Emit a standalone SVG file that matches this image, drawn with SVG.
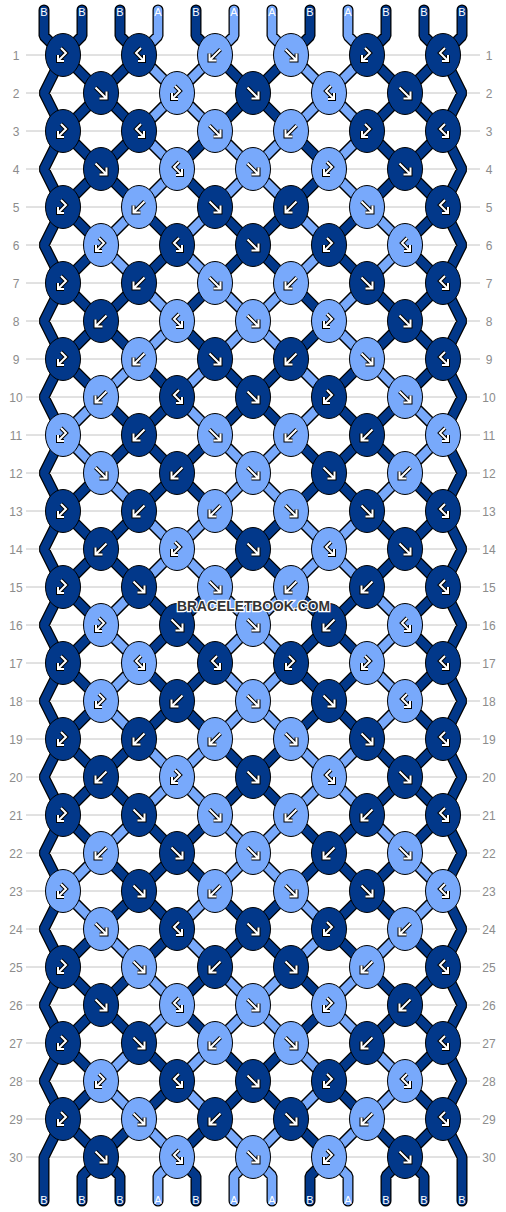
<svg xmlns="http://www.w3.org/2000/svg" width="506" height="1212" viewBox="0 0 506 1212">
<style>
.so{fill:none;stroke:#000;stroke-width:11;stroke-linecap:round;stroke-linejoin:bevel}
.sd{fill:none;stroke:#02388a;stroke-width:8.5;stroke-linecap:round;stroke-linejoin:bevel}
.sl{fill:none;stroke:#78a9fb;stroke-width:8.5;stroke-linecap:round;stroke-linejoin:bevel}
.d{fill:#02388a;stroke:#000;stroke-width:1}
.l{fill:#78a9fb;stroke:#000;stroke-width:1}
.ao{fill:none;stroke:#000;stroke-width:4;stroke-linejoin:miter}
.ai{fill:none;stroke:#fff;stroke-width:2;stroke-linejoin:miter}
.num{font-family:"Liberation Sans",Arial,sans-serif;font-size:12px;fill:#8c8c8c;text-anchor:middle}
.lab{font-family:"Liberation Sans",Arial,sans-serif;font-size:11px;fill:#fff;text-anchor:middle}
.wm{font-family:"Liberation Sans",Arial,sans-serif;font-size:14px;font-weight:bold;fill:#333;stroke:#fff;stroke-width:2.5;paint-order:stroke;text-anchor:middle}
</style>
<defs>
<ellipse id="ed" rx="17.5" ry="21.5" class="d"/>
<ellipse id="el" rx="17.5" ry="21.5" class="l"/>
<path id="pf" d="M-5.5-5.5L5.5 5.5M5.5-1.5V5.5H-1.5"/>
<path id="pb" d="M5.5-5.5L-5.5 5.5M-5.5-1.5V5.5H1.5"/>
<path id="pfb" d="M2-7L-3-2L5 6M5 0V6H-1"/>
<path id="pbf" d="M-2-7L3-2L-5 6M-5 0V6H1"/>
<g id="Df"><use href="#ed"/><use href="#pf" class="ao"/><use href="#pf" class="ai"/></g>
<g id="Db"><use href="#ed"/><use href="#pb" class="ao"/><use href="#pb" class="ai"/></g>
<g id="Dfb"><use href="#ed"/><use href="#pfb" class="ao"/><use href="#pfb" class="ai"/></g>
<g id="Dbf"><use href="#ed"/><use href="#pbf" class="ao"/><use href="#pbf" class="ai"/></g>
<g id="Lf"><use href="#el"/><use href="#pf" class="ao"/><use href="#pf" class="ai"/></g>
<g id="Lb"><use href="#el"/><use href="#pb" class="ao"/><use href="#pb" class="ai"/></g>
<g id="Lfb"><use href="#el"/><use href="#pfb" class="ao"/><use href="#pfb" class="ai"/></g>
<g id="Lbf"><use href="#el"/><use href="#pbf" class="ao"/><use href="#pbf" class="ai"/></g>
<path id="darkS" d="M63 55L443 435M139 55L443 359M215 55L443 283M291 55L443 207M367 55L443 131M63 131L443 511M63 207L443 587M63 283L443 663M63 359L443 739M63 435L443 815M63 511L443 891M63 587L443 967M63 663L443 1043M63 739L443 1119M63 815L405 1157M63 891L329 1157M63 967L253 1157M63 1043L177 1157M63 1119L101 1157M139 55L63 131M215 55L63 207M291 55L63 283M367 55L63 359M443 55L63 435M443 131L63 511M443 207L63 587M443 283L63 663M443 359L63 739M443 435L63 815M443 511L63 891M443 587L63 967M443 663L63 1043M443 739L63 1119M443 815L101 1157M443 891L177 1157M443 967L253 1157M443 1043L329 1157M443 1119L405 1157M82 10V36l-19 19M120 10V36l19 19M196 10V36l19 19M310 10V36l-19 19M386 10V36l-19 19M424 10V36l19 19M82 1201V1176l19-19M120 1201V1176l-19-19M196 1201V1176l-19-19M310 1201V1176l19-19M386 1201V1176l19-19M424 1201V1176l-19-19M44 10V36L63 55L44 93L63 131L44 169L63 207L44 245L63 283L44 321L63 359L44 397L63 435L44 473L63 511L44 549L63 587L44 625L63 663L44 701L63 739L44 777L63 815L44 853L63 891L44 929L63 967L44 1005L63 1043L44 1081L63 1119L44 1157V1201M462 10V36L443 55L462 93L443 131L462 169L443 207L462 245L443 283L462 321L443 359L462 397L443 435L462 473L443 511L462 549L443 587L462 625L443 663L462 701L443 739L462 777L443 815L462 853L443 891L462 929L443 967L462 1005L443 1043L462 1081L443 1119L462 1157V1201"/>
<path id="lightS" d="M158 10V36l-19 19M234 10V36l-19 19M272 10V36l19 19M348 10V36l19 19M158 1201V1176l19-19M234 1201V1176l19-19M272 1201V1176l-19-19M348 1201V1176l-19-19M139 55l38 38M215 55l-38 38M291 55l38 38M367 55l-38 38M177 93l-38 38M177 93l38 38M329 93l-38 38M329 93l38 38M139 131l38 38M215 131l38 38M291 131l-38 38M367 131l-38 38M177 169l-38 38M253 169l-38 38M253 169l38 38M329 169l38 38M139 207l-38 38M215 207l-38 38M291 207l38 38M367 207l38 38M101 245l38 38M177 245l38 38M329 245l-38 38M405 245l-38 38M139 283l38 38M215 283l38 38M291 283l-38 38M367 283l-38 38M177 321l-38 38M253 321l-38 38M253 321l38 38M329 321l38 38M139 359l-38 38M215 359l-38 38M291 359l38 38M367 359l38 38M101 397l-38 38M177 397l38 38M329 397l-38 38M405 397l38 38M63 435l38 38M215 435l38 38M291 435l-38 38M443 435l-38 38M101 473l38 38M253 473l-38 38M253 473l38 38M405 473l-38 38M139 511l38 38M215 511l-38 38M291 511l38 38M367 511l-38 38M177 549l-38 38M177 549l38 38M329 549l-38 38M329 549l38 38M139 587l-38 38M215 587l38 38M291 587l-38 38M367 587l38 38M101 625l38 38M253 625l-38 38M253 625l38 38M405 625l-38 38M139 663l-38 38M215 663l38 38M291 663l-38 38M367 663l38 38M101 701l38 38M253 701l-38 38M253 701l38 38M405 701l-38 38M139 739l38 38M215 739l-38 38M291 739l38 38M367 739l-38 38M177 777l-38 38M177 777l38 38M329 777l-38 38M329 777l38 38M139 815l-38 38M215 815l38 38M291 815l-38 38M367 815l38 38M101 853l-38 38M253 853l-38 38M253 853l38 38M405 853l38 38M63 891l38 38M215 891l-38 38M291 891l38 38M443 891l-38 38M101 929l38 38M177 929l38 38M329 929l-38 38M405 929l-38 38M139 967l38 38M215 967l38 38M291 967l-38 38M367 967l-38 38M177 1005l-38 38M253 1005l-38 38M253 1005l38 38M329 1005l38 38M139 1043l-38 38M215 1043l-38 38M291 1043l38 38M367 1043l38 38M101 1081l38 38M177 1081l38 38M329 1081l-38 38M405 1081l-38 38M139 1119l38 38M215 1119l38 38M291 1119l-38 38M367 1119l-38 38"/>
</defs>
<rect width="506" height="1212" fill="#fff"/>
<g id="grid">
<path d="M26 55H480M26 93H480M26 131H480M26 169H480M26 207H480M26 245H480M26 283H480M26 321H480M26 359H480M26 397H480M26 435H480M26 473H480M26 511H480M26 549H480M26 587H480M26 625H480M26 663H480M26 701H480M26 739H480M26 777H480M26 815H480M26 853H480M26 891H480M26 929H480M26 967H480M26 1005H480M26 1043H480M26 1081H480M26 1119H480M26 1157H480" stroke="#c4c4c4" stroke-width="1" fill="none"/>
<g class="num">
<text x="16" y="59.5">1</text><text x="16" y="97.5">2</text><text x="16" y="135.5">3</text><text x="16" y="173.5">4</text><text x="16" y="211.5">5</text><text x="16" y="249.5">6</text><text x="16" y="287.5">7</text><text x="16" y="325.5">8</text><text x="16" y="363.5">9</text><text x="16" y="401.5">10</text><text x="16" y="439.5">11</text><text x="16" y="477.5">12</text><text x="16" y="515.5">13</text><text x="16" y="553.5">14</text><text x="16" y="591.5">15</text><text x="16" y="629.5">16</text><text x="16" y="667.5">17</text><text x="16" y="705.5">18</text><text x="16" y="743.5">19</text><text x="16" y="781.5">20</text><text x="16" y="819.5">21</text><text x="16" y="857.5">22</text><text x="16" y="895.5">23</text><text x="16" y="933.5">24</text><text x="16" y="971.5">25</text><text x="16" y="1009.5">26</text><text x="16" y="1047.5">27</text><text x="16" y="1085.5">28</text><text x="16" y="1123.5">29</text><text x="16" y="1161.5">30</text>
<text x="489" y="59.5">1</text><text x="489" y="97.5">2</text><text x="489" y="135.5">3</text><text x="489" y="173.5">4</text><text x="489" y="211.5">5</text><text x="489" y="249.5">6</text><text x="489" y="287.5">7</text><text x="489" y="325.5">8</text><text x="489" y="363.5">9</text><text x="489" y="401.5">10</text><text x="489" y="439.5">11</text><text x="489" y="477.5">12</text><text x="489" y="515.5">13</text><text x="489" y="553.5">14</text><text x="489" y="591.5">15</text><text x="489" y="629.5">16</text><text x="489" y="667.5">17</text><text x="489" y="705.5">18</text><text x="489" y="743.5">19</text><text x="489" y="781.5">20</text><text x="489" y="819.5">21</text><text x="489" y="857.5">22</text><text x="489" y="895.5">23</text><text x="489" y="933.5">24</text><text x="489" y="971.5">25</text><text x="489" y="1009.5">26</text><text x="489" y="1047.5">27</text><text x="489" y="1085.5">28</text><text x="489" y="1123.5">29</text><text x="489" y="1161.5">30</text>
</g>
</g>
<g id="connectors">
<use href="#darkS" class="so"/>
<use href="#darkS" class="sd"/>
<use href="#lightS" class="so"/>
<use href="#lightS" class="sl"/>
</g>
<g id="string-labels" class="lab">
<text x="44" y="16">B</text><text x="82" y="16">B</text><text x="120" y="16">B</text><text x="158" y="16">A</text><text x="196" y="16">B</text><text x="234" y="16">A</text><text x="272" y="16">A</text><text x="310" y="16">B</text><text x="348" y="16">A</text><text x="386" y="16">B</text><text x="424" y="16">B</text><text x="462" y="16">B</text>
<text x="44" y="1204">B</text><text x="82" y="1204">B</text><text x="120" y="1204">B</text><text x="158" y="1204">A</text><text x="196" y="1204">B</text><text x="234" y="1204">A</text><text x="272" y="1204">A</text><text x="310" y="1204">B</text><text x="348" y="1204">A</text><text x="386" y="1204">B</text><text x="424" y="1204">B</text><text x="462" y="1204">B</text>
</g>
<g id="knots">
<g id="n1-1"><use href="#Dbf" x="63" y="55"/></g><g id="n1-2"><use href="#Dfb" x="139" y="55"/></g><g id="n1-3"><use href="#Lb" x="215" y="55"/></g><g id="n1-4"><use href="#Lf" x="291" y="55"/></g><g id="n1-5"><use href="#Dbf" x="367" y="55"/></g><g id="n1-6"><use href="#Dfb" x="443" y="55"/></g>
<g id="n2-1"><use href="#Df" x="101" y="93"/></g><g id="n2-2"><use href="#Lbf" x="177" y="93"/></g><g id="n2-3"><use href="#Df" x="253" y="93"/></g><g id="n2-4"><use href="#Lfb" x="329" y="93"/></g><g id="n2-5"><use href="#Df" x="405" y="93"/></g>
<g id="n3-1"><use href="#Dbf" x="63" y="131"/></g><g id="n3-2"><use href="#Dfb" x="139" y="131"/></g><g id="n3-3"><use href="#Lf" x="215" y="131"/></g><g id="n3-4"><use href="#Lb" x="291" y="131"/></g><g id="n3-5"><use href="#Dbf" x="367" y="131"/></g><g id="n3-6"><use href="#Dfb" x="443" y="131"/></g>
<g id="n4-1"><use href="#Df" x="101" y="169"/></g><g id="n4-2"><use href="#Lfb" x="177" y="169"/></g><g id="n4-3"><use href="#Lf" x="253" y="169"/></g><g id="n4-4"><use href="#Lbf" x="329" y="169"/></g><g id="n4-5"><use href="#Df" x="405" y="169"/></g>
<g id="n5-1"><use href="#Dbf" x="63" y="207"/></g><g id="n5-2"><use href="#Lb" x="139" y="207"/></g><g id="n5-3"><use href="#Df" x="215" y="207"/></g><g id="n5-4"><use href="#Db" x="291" y="207"/></g><g id="n5-5"><use href="#Lf" x="367" y="207"/></g><g id="n5-6"><use href="#Dfb" x="443" y="207"/></g>
<g id="n6-1"><use href="#Lbf" x="101" y="245"/></g><g id="n6-2"><use href="#Dfb" x="177" y="245"/></g><g id="n6-3"><use href="#Df" x="253" y="245"/></g><g id="n6-4"><use href="#Dbf" x="329" y="245"/></g><g id="n6-5"><use href="#Lfb" x="405" y="245"/></g>
<g id="n7-1"><use href="#Dbf" x="63" y="283"/></g><g id="n7-2"><use href="#Db" x="139" y="283"/></g><g id="n7-3"><use href="#Lf" x="215" y="283"/></g><g id="n7-4"><use href="#Lb" x="291" y="283"/></g><g id="n7-5"><use href="#Df" x="367" y="283"/></g><g id="n7-6"><use href="#Dfb" x="443" y="283"/></g>
<g id="n8-1"><use href="#Db" x="101" y="321"/></g><g id="n8-2"><use href="#Lfb" x="177" y="321"/></g><g id="n8-3"><use href="#Lf" x="253" y="321"/></g><g id="n8-4"><use href="#Lbf" x="329" y="321"/></g><g id="n8-5"><use href="#Df" x="405" y="321"/></g>
<g id="n9-1"><use href="#Dbf" x="63" y="359"/></g><g id="n9-2"><use href="#Lb" x="139" y="359"/></g><g id="n9-3"><use href="#Df" x="215" y="359"/></g><g id="n9-4"><use href="#Db" x="291" y="359"/></g><g id="n9-5"><use href="#Lf" x="367" y="359"/></g><g id="n9-6"><use href="#Dfb" x="443" y="359"/></g>
<g id="n10-1"><use href="#Lb" x="101" y="397"/></g><g id="n10-2"><use href="#Dfb" x="177" y="397"/></g><g id="n10-3"><use href="#Df" x="253" y="397"/></g><g id="n10-4"><use href="#Dbf" x="329" y="397"/></g><g id="n10-5"><use href="#Lf" x="405" y="397"/></g>
<g id="n11-1"><use href="#Lbf" x="63" y="435"/></g><g id="n11-2"><use href="#Db" x="139" y="435"/></g><g id="n11-3"><use href="#Lf" x="215" y="435"/></g><g id="n11-4"><use href="#Lb" x="291" y="435"/></g><g id="n11-5"><use href="#Db" x="367" y="435"/></g><g id="n11-6"><use href="#Lfb" x="443" y="435"/></g>
<g id="n12-1"><use href="#Lf" x="101" y="473"/></g><g id="n12-2"><use href="#Db" x="177" y="473"/></g><g id="n12-3"><use href="#Lf" x="253" y="473"/></g><g id="n12-4"><use href="#Df" x="329" y="473"/></g><g id="n12-5"><use href="#Lb" x="405" y="473"/></g>
<g id="n13-1"><use href="#Dbf" x="63" y="511"/></g><g id="n13-2"><use href="#Db" x="139" y="511"/></g><g id="n13-3"><use href="#Lb" x="215" y="511"/></g><g id="n13-4"><use href="#Lf" x="291" y="511"/></g><g id="n13-5"><use href="#Df" x="367" y="511"/></g><g id="n13-6"><use href="#Dfb" x="443" y="511"/></g>
<g id="n14-1"><use href="#Db" x="101" y="549"/></g><g id="n14-2"><use href="#Lbf" x="177" y="549"/></g><g id="n14-3"><use href="#Df" x="253" y="549"/></g><g id="n14-4"><use href="#Lfb" x="329" y="549"/></g><g id="n14-5"><use href="#Df" x="405" y="549"/></g>
<g id="n15-1"><use href="#Dbf" x="63" y="587"/></g><g id="n15-2"><use href="#Df" x="139" y="587"/></g><g id="n15-3"><use href="#Lf" x="215" y="587"/></g><g id="n15-4"><use href="#Lb" x="291" y="587"/></g><g id="n15-5"><use href="#Db" x="367" y="587"/></g><g id="n15-6"><use href="#Dfb" x="443" y="587"/></g>
<g id="n16-1"><use href="#Lbf" x="101" y="625"/></g><g id="n16-2"><use href="#Df" x="177" y="625"/></g><g id="n16-3"><use href="#Lf" x="253" y="625"/></g><g id="n16-4"><use href="#Db" x="329" y="625"/></g><g id="n16-5"><use href="#Lfb" x="405" y="625"/></g>
<g id="n17-1"><use href="#Dbf" x="63" y="663"/></g><g id="n17-2"><use href="#Lfb" x="139" y="663"/></g><g id="n17-3"><use href="#Dfb" x="215" y="663"/></g><g id="n17-4"><use href="#Dbf" x="291" y="663"/></g><g id="n17-5"><use href="#Lbf" x="367" y="663"/></g><g id="n17-6"><use href="#Dfb" x="443" y="663"/></g>
<g id="n18-1"><use href="#Lbf" x="101" y="701"/></g><g id="n18-2"><use href="#Db" x="177" y="701"/></g><g id="n18-3"><use href="#Lf" x="253" y="701"/></g><g id="n18-4"><use href="#Df" x="329" y="701"/></g><g id="n18-5"><use href="#Lfb" x="405" y="701"/></g>
<g id="n19-1"><use href="#Dbf" x="63" y="739"/></g><g id="n19-2"><use href="#Db" x="139" y="739"/></g><g id="n19-3"><use href="#Lb" x="215" y="739"/></g><g id="n19-4"><use href="#Lf" x="291" y="739"/></g><g id="n19-5"><use href="#Df" x="367" y="739"/></g><g id="n19-6"><use href="#Dfb" x="443" y="739"/></g>
<g id="n20-1"><use href="#Db" x="101" y="777"/></g><g id="n20-2"><use href="#Lbf" x="177" y="777"/></g><g id="n20-3"><use href="#Df" x="253" y="777"/></g><g id="n20-4"><use href="#Lfb" x="329" y="777"/></g><g id="n20-5"><use href="#Df" x="405" y="777"/></g>
<g id="n21-1"><use href="#Dbf" x="63" y="815"/></g><g id="n21-2"><use href="#Df" x="139" y="815"/></g><g id="n21-3"><use href="#Lf" x="215" y="815"/></g><g id="n21-4"><use href="#Lb" x="291" y="815"/></g><g id="n21-5"><use href="#Db" x="367" y="815"/></g><g id="n21-6"><use href="#Dfb" x="443" y="815"/></g>
<g id="n22-1"><use href="#Lb" x="101" y="853"/></g><g id="n22-2"><use href="#Df" x="177" y="853"/></g><g id="n22-3"><use href="#Lf" x="253" y="853"/></g><g id="n22-4"><use href="#Db" x="329" y="853"/></g><g id="n22-5"><use href="#Lf" x="405" y="853"/></g>
<g id="n23-1"><use href="#Lbf" x="63" y="891"/></g><g id="n23-2"><use href="#Df" x="139" y="891"/></g><g id="n23-3"><use href="#Lb" x="215" y="891"/></g><g id="n23-4"><use href="#Lf" x="291" y="891"/></g><g id="n23-5"><use href="#Df" x="367" y="891"/></g><g id="n23-6"><use href="#Lfb" x="443" y="891"/></g>
<g id="n24-1"><use href="#Lf" x="101" y="929"/></g><g id="n24-2"><use href="#Dfb" x="177" y="929"/></g><g id="n24-3"><use href="#Df" x="253" y="929"/></g><g id="n24-4"><use href="#Dbf" x="329" y="929"/></g><g id="n24-5"><use href="#Lb" x="405" y="929"/></g>
<g id="n25-1"><use href="#Dbf" x="63" y="967"/></g><g id="n25-2"><use href="#Lf" x="139" y="967"/></g><g id="n25-3"><use href="#Db" x="215" y="967"/></g><g id="n25-4"><use href="#Df" x="291" y="967"/></g><g id="n25-5"><use href="#Lb" x="367" y="967"/></g><g id="n25-6"><use href="#Dfb" x="443" y="967"/></g>
<g id="n26-1"><use href="#Df" x="101" y="1005"/></g><g id="n26-2"><use href="#Lfb" x="177" y="1005"/></g><g id="n26-3"><use href="#Lf" x="253" y="1005"/></g><g id="n26-4"><use href="#Lbf" x="329" y="1005"/></g><g id="n26-5"><use href="#Db" x="405" y="1005"/></g>
<g id="n27-1"><use href="#Dbf" x="63" y="1043"/></g><g id="n27-2"><use href="#Df" x="139" y="1043"/></g><g id="n27-3"><use href="#Lb" x="215" y="1043"/></g><g id="n27-4"><use href="#Lf" x="291" y="1043"/></g><g id="n27-5"><use href="#Db" x="367" y="1043"/></g><g id="n27-6"><use href="#Dfb" x="443" y="1043"/></g>
<g id="n28-1"><use href="#Lbf" x="101" y="1081"/></g><g id="n28-2"><use href="#Dfb" x="177" y="1081"/></g><g id="n28-3"><use href="#Df" x="253" y="1081"/></g><g id="n28-4"><use href="#Dbf" x="329" y="1081"/></g><g id="n28-5"><use href="#Lfb" x="405" y="1081"/></g>
<g id="n29-1"><use href="#Dbf" x="63" y="1119"/></g><g id="n29-2"><use href="#Lf" x="139" y="1119"/></g><g id="n29-3"><use href="#Db" x="215" y="1119"/></g><g id="n29-4"><use href="#Df" x="291" y="1119"/></g><g id="n29-5"><use href="#Lb" x="367" y="1119"/></g><g id="n29-6"><use href="#Dfb" x="443" y="1119"/></g>
<g id="n30-1"><use href="#Df" x="101" y="1157"/></g><g id="n30-2"><use href="#Lfb" x="177" y="1157"/></g><g id="n30-3"><use href="#Lf" x="253" y="1157"/></g><g id="n30-4"><use href="#Lbf" x="329" y="1157"/></g><g id="n30-5"><use href="#Df" x="405" y="1157"/></g>
</g>
<text class="wm" x="253.5" y="611" textLength="153" lengthAdjust="spacingAndGlyphs">BRACELETBOOK.COM</text>
</svg>
